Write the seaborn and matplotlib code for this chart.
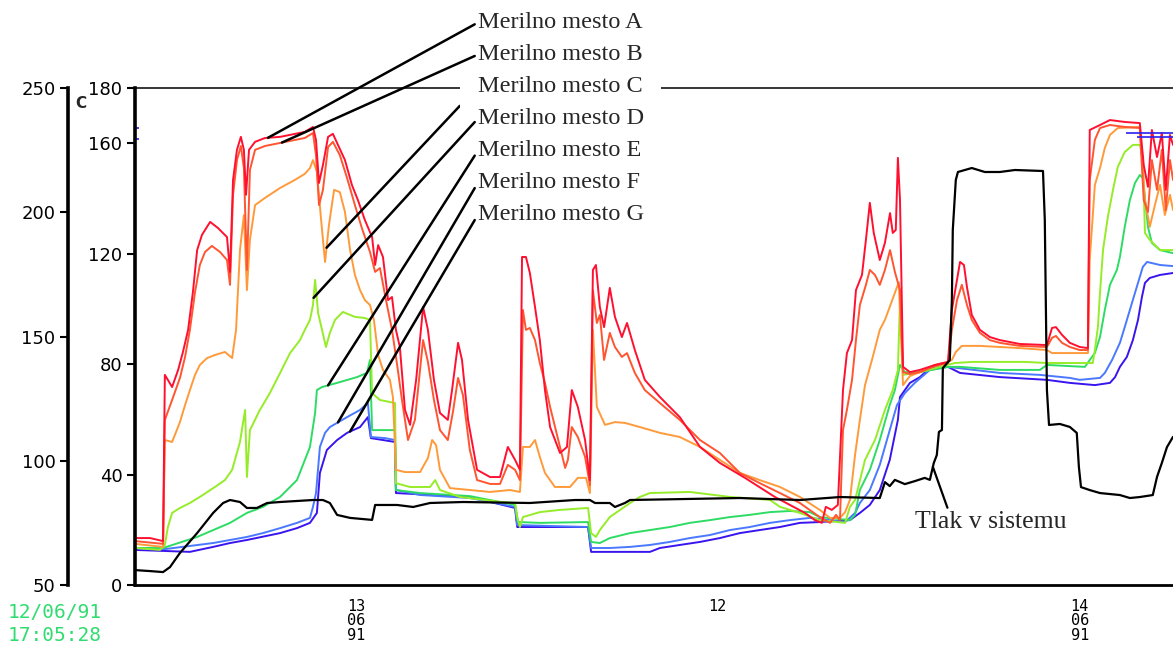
import numpy as np
import matplotlib
matplotlib.use("Agg")
import matplotlib.pyplot as plt
import seaborn as sns

# Time axis: hours counted from 12/06/91 00:00 (24 = 13/06, 48 = 14/06)
time_a = [16.68,17.18,17.61,17.67,17.91,18.11,18.27,18.44,18.60,18.74,
          18.90,19.17,19.43,19.73,19.83,19.93,20.06,20.19,20.29,20.36,
          20.46,20.66,20.99,21.49,21.98,22.31,22.58,22.68,22.78,22.91,
          23.08,23.24,23.41,23.64,23.87,24.07,24.30,24.54,24.64,24.74,
          24.90,25.07,25.20,25.33,25.46,25.63,25.80,26.00,26.23,26.39,
          26.59,26.79,27.05,27.19,27.39,27.52,27.72,28.02,28.45,28.78,
          29.04,29.28,29.44,29.51,29.64,29.77,29.94,30.10,30.27,30.44,
          30.77,31.00,31.16,31.36,31.60,31.76,31.86,31.96,32.09,32.23,
          32.42,32.59,32.82,32.99,33.25,33.58,34.08,34.74,35.41,36.07,
          36.90,37.89,38.89,39.22,39.45,39.58,39.78,39.98,40.15,40.28,
          40.45,40.58,40.78,40.91,41.04,41.17,41.37,41.54,41.71,41.80,
          41.90,41.97,42.04,42.14,42.37,42.70,43.20,43.63,43.76,43.93,
          44.03,44.16,44.26,44.42,44.69,45.02,45.35,46.01,46.91,47.08,
          47.21,47.41,47.67,48.00,48.27,48.33,48.67,49.00,49.49,49.99,
          50.12,50.26,50.39,50.56,50.72,50.85,50.99,51.09]
temp_a = [17.0,17.0,15.9,76.1,71.7,77.9,84.4,92.4,106.1,121.3,
          126.8,131.5,129.3,126.0,113.4,146.7,157.6,162.3,157.6,141.3,
          157.6,160.5,161.9,162.3,163.4,164.1,165.9,161.2,145.6,152.1,
          162.3,163.4,159.4,153.9,144.9,139.4,132.2,126.0,115.9,123.1,
          118.8,103.2,104.3,92.4,86.2,63.4,58.0,74.3,100.7,92.4,
          74.3,62.3,59.8,70.6,87.7,81.5,59.8,41.7,39.1,39.1,
          50.0,45.3,41.7,118.8,118.8,113.0,100.7,88.7,70.6,57.2,
          47.8,50.0,70.6,64.5,52.5,38.0,114.1,115.9,100.7,93.4,
          107.6,97.1,89.8,94.9,85.1,74.3,68.1,60.8,50.0,44.2,
          38.8,31.9,26.1,23.5,22.5,28.3,27.2,29.0,70.6,84.0,
          88.7,106.8,112.3,125.0,138.4,127.5,117.7,123.9,134.7,127.5,
          128.6,154.7,139.4,79.0,77.1,77.9,79.7,80.8,99.6,110.5,
          117.0,115.9,107.9,97.8,92.4,89.8,88.7,87.3,86.9,93.1,
          93.4,90.6,87.7,86.2,85.8,164.8,166.6,168.4,167.7,167.3,
          152.1,144.2,164.8,155.0,163.7,143.1,163.0,159.4]

time_b = [16.68,17.61,17.67,17.91,18.17,18.34,18.50,18.67,18.83,19.00,
          19.23,19.50,19.73,19.83,19.93,20.06,20.19,20.29,20.39,20.49,
          20.66,20.99,21.49,21.98,22.31,22.58,22.68,22.78,22.91,23.08,
          23.24,23.47,23.71,23.97,24.20,24.47,24.64,24.80,25.00,25.20,
          25.37,25.53,25.73,25.96,26.23,26.39,26.59,26.79,27.05,27.22,
          27.39,27.55,27.78,28.02,28.45,28.78,29.04,29.28,29.44,29.54,
          29.64,29.77,29.94,30.10,30.27,30.44,30.77,30.94,31.03,31.16,
          31.36,31.60,31.76,31.86,31.99,32.09,32.23,32.42,32.59,32.82,
          32.99,33.25,33.58,34.08,34.74,35.41,36.07,36.73,37.39,38.06,
          38.72,39.38,39.72,39.92,40.05,40.15,40.28,40.45,40.58,40.71,
          40.91,41.04,41.21,41.37,41.54,41.71,41.87,42.04,42.14,42.37,
          42.70,43.20,43.63,43.76,43.93,44.09,44.26,44.42,44.69,45.02,
          45.35,46.01,46.91,47.08,47.21,47.41,47.67,48.00,48.27,48.33,
          48.50,48.67,49.00,49.49,49.99,50.12,50.26,50.39,50.56,50.72,
          50.85,50.99,51.09]
temp_b = [15.9,14.9,59.8,67.0,75.0,82.6,92.4,106.1,115.9,120.6,
          122.8,120.6,117.7,108.7,141.3,153.9,159.0,151.0,114.1,150.3,
          157.6,159.0,160.1,161.2,161.9,163.7,155.7,137.6,143.1,158.6,
          160.5,155.7,147.4,137.6,129.3,120.6,113.4,114.8,103.2,92.4,
          79.7,67.0,52.5,59.8,88.7,80.8,67.0,56.1,52.5,62.7,
          75.0,68.8,48.9,38.0,36.6,36.6,43.5,41.7,38.0,99.6,
          92.4,93.1,88.7,80.4,73.2,64.5,50.0,42.4,45.3,57.2,
          53.6,46.4,36.2,106.8,94.9,97.8,81.5,91.3,86.2,82.6,
          84.0,76.8,70.6,65.9,59.8,52.5,47.8,40.6,36.9,33.3,
          29.7,24.6,22.5,25.4,23.5,56.1,63.4,74.3,88.7,101.4,
          108.7,114.1,112.3,108.7,114.1,121.3,113.4,106.8,77.1,76.4,
          77.1,79.3,80.4,92.4,103.2,108.7,101.4,96.0,91.3,88.7,
          87.7,86.6,86.2,89.5,90.2,87.7,86.2,85.1,85.1,146.7,
          161.2,165.5,166.6,165.9,165.5,139.4,135.1,153.9,143.1,157.6,
          135.8,153.9,146.7]

time_c = [16.68,17.61,17.67,17.91,18.17,18.34,18.50,18.67,18.83,19.07,
          19.33,19.66,19.90,20.03,20.16,20.29,20.39,20.49,20.66,20.99,
          21.49,21.98,22.31,22.48,22.58,22.71,22.85,22.98,23.11,23.28,
          23.47,23.64,23.81,23.97,24.14,24.30,24.47,24.60,24.74,24.90,
          25.13,25.23,25.33,25.63,26.13,26.39,26.53,26.66,26.79,27.12,
          27.78,28.45,29.11,29.44,29.54,29.77,29.94,30.10,30.27,30.60,
          31.10,31.36,31.63,31.76,31.86,31.99,32.26,32.59,32.92,33.42,
          34.08,34.74,35.41,36.07,36.73,37.39,38.06,38.72,39.38,39.72,
          40.05,40.22,40.38,40.55,40.71,40.88,41.11,41.37,41.54,41.70,
          41.87,42.00,42.14,42.37,42.70,43.20,43.63,43.76,43.89,44.09,
          44.69,45.35,46.01,46.91,47.08,48.27,48.33,48.50,48.67,48.83,
          49.00,49.26,49.99,50.16,50.32,50.49,50.66,50.82,50.99,51.09]
temp_c = [14.9,13.8,52.5,51.8,59.0,65.2,70.6,76.1,79.7,82.2,
          83.3,84.4,82.2,92.4,121.3,134.0,106.8,125.0,137.6,140.2,
          143.8,146.7,148.9,151.0,153.9,149.6,132.2,117.0,130.4,143.1,
          142.3,135.1,121.3,112.3,106.8,103.2,101.4,96.0,83.3,77.9,
          74.3,68.1,41.7,40.9,40.9,46.0,52.5,50.7,41.7,35.1,
          34.4,33.7,34.4,33.7,50.0,50.0,52.5,46.4,40.6,35.5,
          35.5,38.8,38.8,33.3,92.4,64.5,58.0,59.0,58.7,57.2,
          55.1,53.6,50.0,45.3,40.6,38.0,35.5,31.9,27.2,24.3,
          24.3,26.4,30.8,47.1,59.8,72.4,81.5,92.4,96.0,100.7,
          105.8,109.7,72.4,75.7,77.1,79.7,80.8,81.5,84.4,86.6,
          86.6,86.2,85.8,85.1,84.0,84.0,117.7,144.9,151.0,158.3,
          163.0,165.5,165.9,139.4,129.7,137.6,144.9,134.0,141.3,135.8]

time_d = [16.68,17.51,17.67,17.77,17.91,18.17,18.50,18.83,19.33,19.66,
          19.90,20.16,20.33,20.39,20.49,20.82,21.15,21.49,21.82,22.15,
          22.31,22.48,22.58,22.65,22.75,22.88,23.01,23.14,23.31,23.57,
          23.97,24.30,24.47,24.54,24.80,25.30,25.33,25.79,26.46,26.63,
          26.79,27.45,28.78,29.28,29.35,29.44,29.54,30.10,30.77,31.70,
          31.80,31.96,32.09,32.42,32.76,33.09,33.42,33.75,35.07,36.40,
          37.73,38.06,38.72,39.38,40.22,40.38,40.55,40.88,41.21,41.54,
          41.80,41.97,42.04,42.14,42.70,43.36,43.86,44.46,46.18,46.91,
          48.43,48.50,48.60,48.67,48.77,48.93,49.10,49.26,49.49,49.76,
          49.99,50.09,50.16,50.32,50.66,51.09]
temp_d = [13.4,12.7,14.5,21.0,26.1,27.9,29.7,31.9,35.5,38.0,
          41.7,51.8,63.4,39.1,56.1,63.4,69.5,76.8,84.0,88.7,
          92.4,96.0,101.4,110.5,98.5,92.4,86.2,91.3,96.0,98.9,
          97.1,96.7,96.0,69.5,67.0,65.9,36.9,35.5,35.5,38.0,
          34.4,31.9,30.1,29.7,24.6,21.0,24.6,26.4,27.2,27.9,
          18.8,17.4,19.9,24.6,27.2,29.7,31.9,33.3,33.7,31.9,
          30.8,28.3,26.1,23.5,22.5,28.3,30.8,45.3,52.5,63.4,
          70.6,77.9,103.2,76.1,77.1,79.0,80.4,80.8,80.8,80.4,
          80.4,85.1,93.4,105.8,121.3,133.3,143.1,151.4,156.8,159.4,
          159.4,155.0,127.5,125.0,121.3,121.3]

time_e = [16.68,17.61,18.74,19.83,20.39,20.92,21.49,22.05,22.48,22.65,
          22.71,22.88,23.38,24.04,24.37,24.47,24.54,24.90,25.30,25.33,
          26.13,27.78,29.28,29.38,30.10,31.70,31.80,32.09,32.42,33.09,
          33.75,34.41,35.07,35.74,36.40,37.06,37.73,38.39,39.05,39.38,
          40.38,40.55,40.71,41.04,41.37,41.70,41.87,42.04,42.20,42.70,
          43.63,44.03,45.35,46.68,46.91,48.17,48.33,48.50,48.67,48.83,
          49.00,49.23,49.33,49.49,49.66,49.83,49.99,50.09,50.26,50.39,
          50.66,51.09]
temp_e = [13.4,13.4,17.4,22.5,26.1,28.3,31.9,38.0,50.0,62.3,
          70.6,71.7,73.2,75.3,76.8,81.5,56.1,56.1,56.1,34.4,
          33.3,32.2,29.0,22.8,22.5,22.8,15.6,15.2,17.0,18.8,
          19.9,21.0,22.5,23.5,24.6,25.4,26.4,26.8,26.4,24.6,
          23.5,25.4,34.4,41.7,52.5,65.2,70.6,79.7,77.1,77.1,
          79.0,79.0,77.9,77.9,79.7,79.0,81.5,84.0,89.8,99.6,
          108.7,114.1,118.8,129.7,139.4,145.6,148.5,147.4,129.7,123.9,
          121.3,120.2]

time_f = [16.68,17.67,19.27,19.83,20.39,20.92,21.49,22.05,22.48,22.58,
          22.68,22.81,22.98,23.14,23.71,24.14,24.40,24.50,24.97,25.30,
          25.33,26.13,27.78,29.28,29.35,31.70,31.80,32.42,33.09,33.75,
          34.41,35.07,35.74,36.40,37.06,37.73,38.39,39.05,39.72,40.22,
          40.55,40.71,41.04,41.37,41.70,41.94,42.20,42.53,43.03,43.63,
          45.35,46.68,47.67,48.00,48.67,48.83,49.07,49.33,49.49,49.66,
          49.83,49.99,50.09,50.23,50.66,51.09]
temp_f = [13.4,13.0,15.2,16.3,17.4,18.8,20.6,22.5,24.3,28.3,
          33.3,50.0,55.1,57.2,60.8,63.4,65.9,53.6,53.2,52.5,
          34.4,32.6,31.5,28.3,21.7,21.0,13.4,13.4,13.8,14.5,
          15.6,17.0,18.1,19.9,21.0,22.5,23.5,24.3,23.5,22.8,
          26.1,29.7,34.4,43.5,56.1,65.2,69.5,73.2,77.9,79.0,
          76.8,76.1,75.0,74.3,75.0,76.8,81.5,87.7,93.4,99.6,
          105.8,111.6,115.2,117.0,115.9,115.5]

time_g = [16.68,18.50,19.27,19.83,20.39,21.49,22.05,22.48,22.71,22.81,
          23.04,23.38,23.71,24.14,24.40,24.50,25.30,25.33,27.78,29.28,
          29.35,31.70,31.80,33.75,34.08,34.74,35.41,36.07,36.73,37.39,
          38.06,38.72,39.38,40.38,40.71,41.04,41.37,41.70,41.97,42.04,
          42.37,42.70,43.03,43.63,44.03,45.35,46.91,47.67,48.50,49.00,
          49.17,49.33,49.56,49.76,49.93,50.06,50.16,50.32,50.66,51.09]
temp_g = [12.7,12.0,13.8,15.2,16.3,18.8,20.6,22.5,26.1,40.6,
          48.9,52.5,55.1,57.2,60.8,53.2,51.8,33.3,31.9,27.9,
          21.0,21.0,12.0,12.0,13.4,14.5,15.6,17.0,18.8,19.9,
          21.0,22.5,22.8,23.5,26.1,29.0,34.4,45.3,59.8,68.1,
          73.2,75.3,78.6,79.0,76.8,75.3,74.3,73.2,72.4,73.2,
          75.3,79.0,82.6,88.7,96.0,104.3,109.4,111.2,112.3,113.0]

# System pressure (outer scale)
time_p = [16.68,17.18,17.61,17.84,18.17,18.74,19.27,19.60,19.83,20.16,
          20.39,20.72,21.06,21.49,22.58,22.91,23.14,23.38,23.81,24.54,
          24.64,25.37,25.90,26.46,27.55,29.77,31.26,31.76,31.93,32.42,
          32.59,32.92,33.09,36.73,38.72,40.05,41.37,41.54,41.70,41.87,
          42.20,42.53,42.86,43.03,43.16,43.26,43.33,43.43,43.46,43.69,
          43.76,43.79,43.89,43.96,44.42,44.85,45.35,45.85,46.78,46.84,
          46.91,46.98,47.34,47.67,47.90,47.97,48.04,48.33,48.67,49.33,
          49.66,49.99,50.42,50.56,50.72,50.89,51.09]
pressure = [56.0,55.6,55.2,57.2,62.9,70.9,79.0,83.0,84.2,83.4,
            81.0,81.0,83.0,83.4,84.2,84.2,83.0,78.2,77.0,76.2,
            82.2,82.2,81.4,83.0,83.4,83.0,84.2,84.2,83.0,83.0,
            81.4,83.0,84.2,85.0,84.2,85.4,85.0,91.4,89.8,92.3,
            90.6,91.8,93.1,92.3,99.1,102.3,111.6,112.4,137.3,140.5,
            164.7,192.9,213.0,216.2,217.8,216.2,216.2,217.0,216.6,196.9,
            128.5,114.4,114.8,113.6,111.2,97.5,89.4,88.2,87.0,86.2,
            85.0,85.4,86.2,93.5,99.1,105.5,109.6]

series_names = ["Merilno mesto A", "Merilno mesto B", "Merilno mesto C",
                "Merilno mesto D", "Merilno mesto E", "Merilno mesto F",
                "Merilno mesto G"]
series_colors = ["#ff1030", "#ff5530", "#ff9a3a", "#96ec28",
                 "#2edc64", "#4a78ff", "#3a14ee"]
series_time = [time_a, time_b, time_c, time_d, time_e, time_f, time_g]
series_temp = [temp_a, temp_b, temp_c, temp_d, temp_e, temp_f, temp_g]
pointer_time = [21.09, 21.55, 23.03, 22.60, 23.08, 23.41, 23.81]
pressure_label = "Tlak v sistemu"
pressure_pointer_time = 43.13

temp_ticks = [0, 40, 80, 120, 160, 180]
pressure_ticks = [50, 100, 150, 200, 250]
hour_ticks = list(range(18, 52, 2))
day_labels = {24: "13\n06\n91", 36: "12", 48: "14\n06\n91"}
alarm_marks = [165.5, 161.5]
alarm_levels = [163.7, 162.3]
start_stamp = "12/06/91\n17:05:28"

sns.set_style("white")
plt.rcParams["font.family"] = ["DejaVu Sans"]

W, H = 1173, 649
fig = plt.figure(figsize=(W / 100, H / 100), dpi=100)
ax = fig.add_axes([135 / W, 1 - 585 / H, 1 - 135 / W, (585 - 88) / H])
ax2 = ax.twinx()

# temperature traces, last drawn on top
for name, color, t, v in list(zip(series_names, series_colors,
                                  series_time, series_temp))[::-1]:
    sns.lineplot(x=t, y=v, ax=ax, color=color, linewidth=1.4,
                 estimator=None, sort=False)

sns.lineplot(x=time_p, y=pressure, ax=ax2, color="black", linewidth=1.6,
             estimator=None, sort=False)

# alarm limit marks
ax.hlines(alarm_marks, 16.68, 16.80, colors="#2a20ee", linewidth=1.2)
ax.hlines(alarm_levels, [49.53, 49.89], 51.09, colors="#2a20ee", linewidth=1.2)

ax.set_xlim(16.68, 51.09)
ax.set_ylim(0, 180)
ax2.set_ylim(50, 250)
for a in (ax, ax2):
    a.set_xlabel("")
    a.set_ylabel("")

# inner (temperature) axis
ax.spines["right"].set_visible(False)
ax.spines["left"].set_linewidth(2.6)
ax.spines["bottom"].set_linewidth(2.0)
ax.spines["top"].set_linewidth(1.1)
for s in ("left", "bottom", "top"):
    ax.spines[s].set_color("black")
ax.set_yticks(temp_ticks)
ax.set_yticklabels([str(v) for v in temp_ticks])
ax.tick_params(axis="y", direction="out", length=6, width=1.5, pad=3,
               labelsize=13, colors="black")
ax.set_xticks(hour_ticks)
ax.set_xticklabels([day_labels.get(h, "") for h in hour_ticks],
                   fontfamily="DejaVu Sans Mono", fontsize=11,
                   linespacing=0.95)
ax.tick_params(axis="x", direction="out", length=6, width=1.5, pad=4,
               colors="black")

# outer (pressure) axis on the far left
for s in ("right", "top", "bottom"):
    ax2.spines[s].set_visible(False)
ax2.spines["left"].set_visible(True)
ax2.spines["left"].set_position(("outward", 67 * 0.72))
ax2.spines["left"].set_linewidth(2.6)
ax2.spines["left"].set_color("black")
ax2.yaxis.set_ticks_position("left")
ax2.yaxis.set_label_position("left")
ax2.set_yticks(pressure_ticks)
ax2.set_yticklabels([str(v) for v in pressure_ticks])
ax2.tick_params(axis="y", direction="out", length=6, width=1.5, pad=3,
                labelsize=13, colors="black")

fig.text(81 / W, 1 - 104 / H, "C", ha="center", va="center",
         fontsize=11, fontweight="bold")
fig.text(8 / W, 1 - 641 / H, start_stamp, ha="left", va="baseline",
         fontsize=14, fontfamily="DejaVu Sans Mono", color="#30dc70",
         linespacing=1.25)

# labelled leader lines; the C label sits on the top border with a white
# backing, drawn beneath the neighbouring labels
baselines = [621, 589, 557, 525, 493, 461, 429]
for i, (name, t, v) in enumerate(zip(series_names, series_time, series_temp)):
    tp = pointer_time[i]
    yp = float(np.interp(tp, t, v))
    box = None
    z = 7
    if i == 2:
        box = dict(boxstyle="square,pad=0.75", fc="white", ec="none")
        z = 6
    ax.annotate(name, xy=(tp, yp), xycoords="data",
                xytext=(478, baselines[i]), textcoords="figure pixels",
                ha="left", va="baseline", fontsize=17.5,
                fontfamily="Liberation Serif", bbox=box,
                arrowprops=dict(arrowstyle="-", color="black", lw=1.8,
                                shrinkA=0, shrinkB=0, relpos=(0, 0.5)),
                annotation_clip=False, zorder=z)

pp = float(np.interp(pressure_pointer_time, time_p, pressure))
ax2.annotate(pressure_label, xy=(pressure_pointer_time, pp), xycoords="data",
             xytext=(991, H - 528), textcoords="figure pixels",
             ha="center", va="baseline", fontsize=18.5,
             fontfamily="Liberation Serif",
             arrowprops=dict(arrowstyle="-", color="black", lw=1.6,
                             shrinkA=0, shrinkB=0, relpos=(0.22, 1.0)),
             annotation_clip=False)

fig.savefig("out.png", dpi=100, facecolor="white")
